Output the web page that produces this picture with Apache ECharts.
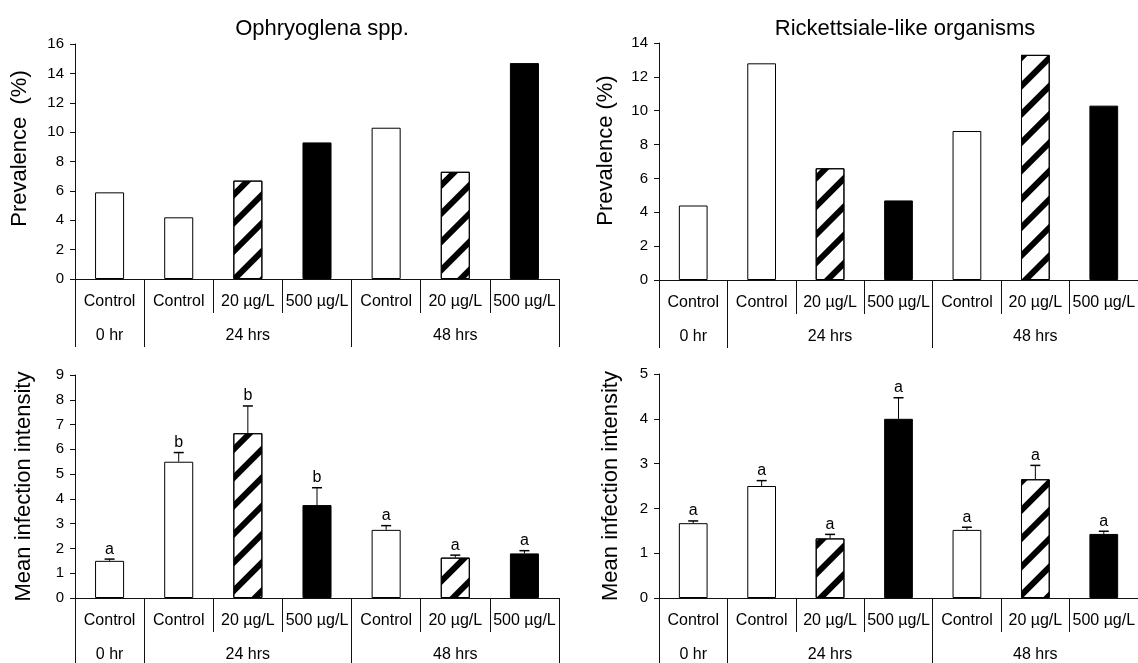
<!DOCTYPE html>
<html>
<head>
<meta charset="utf-8">
<script src="https://cdn.jsdelivr.net/npm/echarts@6/dist/echarts.min.js"></script>
<style>
  html, body { margin: 0; padding: 0; background: #fff; }
  #chart { width: 1138px; height: 663px; }
</style>
</head>
<body>
<div id="chart"></div>
<script>
// categories (bottom row of the label table) and time groups
const treatments = ['Control', 'Control', '20 µg/L', '500 µg/L', 'Control', '20 µg/L', '500 µg/L'];
const timeGroups = ['0 hr', '', '24 hrs', '', '', '48 hrs', ''];
const groupStarts = [0, 1, 4];
const barKinds = ['control', 'control', 'low', 'high', 'control', 'low', 'high'];

// prevalence (%)
const ophPrevalence = [5.9, 4.2, 6.7, 9.3, 10.3, 7.3, 14.7];
const rloPrevalence = [4.4, 12.8, 6.6, 4.7, 8.8, 13.3, 10.3];

// mean infection intensity + SE + letters
const ophIntensity = [1.5, 5.5, 6.65, 3.75, 2.75, 1.63, 1.8];
const ophIntensityErr = [0.07, 0.37, 1.1, 0.7, 0.17, 0.1, 0.11];
const ophLetters = ['a', 'b', 'b', 'b', 'a', 'a', 'a'];
const rloIntensity = [1.67, 2.5, 1.33, 4.0, 1.52, 2.65, 1.43];
const rloIntensityErr = [0.05, 0.12, 0.09, 0.47, 0.06, 0.31, 0.06];
const rloLetters = ['a', 'a', 'a', 'a', 'a', 'a', 'a'];

const FONT = '"Liberation Sans", Arial, sans-serif';
const INK = '#111';

const chart = echarts.init(document.getElementById('chart'));

// hatch for the 20 µg/L bars
const hatch = {
  symbol: 'rect',
  symbolSize: 1,
  color: '#000',
  dashArrayX: [1, 0],
  dashArrayY: [5.5, 13.5],
  rotation: -Math.PI / 4
};

function barItems(values) {
  return values.map((v, i) => {
    const kind = barKinds[i];
    const style = { color: kind === 'high' ? '#000' : '#fff', borderColor: '#000', borderWidth: 1 };
    if (kind === 'low') style.decal = hatch;
    return { value: v, itemStyle: style };
  });
}

// panel layouts
const panels = [
  { left: 75, top: 44, width: 484, height: 235, max: 16, interval: 2, name: 'Prevalence  (%)', gap: 44, namePad: [0, 0, 0, 26] },
  { left: 659, top: 43, width: 486, height: 237, max: 14, interval: 2, name: 'Prevalence (%)', gap: 42, namePad: [0, 0, 0, 22] },
  { left: 75, top: 375, width: 484, height: 224, max: 9, interval: 1, name: 'Mean infection intensity', gap: 40, namePad: [0, 0, 0, 0] },
  { left: 659, top: 374, width: 486, height: 225, max: 5, interval: 1, name: 'Mean infection intensity', gap: 37, namePad: [0, 0, 0, 0] }
];

const grid = [];
const xAxis = [];
const yAxis = [];
panels.forEach((p, k) => {
  grid.push({ left: p.left, top: p.top, width: p.width, height: p.height });
  // treatment row
  xAxis.push({
    type: 'category', gridIndex: k, data: treatments, position: 'bottom',
    axisLine: { lineStyle: { color: INK, width: 1 } },
    axisTick: { show: true, length: 34, interval: 0, lineStyle: { color: INK } },
    axisLabel: { interval: 0, margin: 15, color: '#000', fontSize: 16, fontFamily: FONT, hideOverlap: false }
  });
  // time group row
  xAxis.push({
    type: 'category', gridIndex: k, data: timeGroups, position: 'bottom', offset: 34,
    axisLine: { show: false },
    axisTick: { show: true, length: 34, interval: (i) => groupStarts.includes(i), lineStyle: { color: INK } },
    axisLabel: { interval: 0, margin: 15, color: '#000', fontSize: 16, fontFamily: FONT, hideOverlap: false }
  });
  yAxis.push({
    type: 'value', gridIndex: k, min: 0, max: p.max, interval: p.interval,
    name: p.name, nameLocation: 'middle', nameGap: p.gap,
    nameTextStyle: { fontSize: 22, fontFamily: FONT, color: '#000', padding: p.namePad },
    axisLine: { show: true, lineStyle: { color: INK } },
    axisTick: { show: true, length: 5, lineStyle: { color: INK } },
    axisLabel: { margin: 11, fontSize: 15, fontFamily: FONT, color: '#000' },
    splitLine: { show: false }
  });
});

function errorSeries(k, values, errs, letters) {
  return {
    type: 'custom',
    xAxisIndex: k * 2, yAxisIndex: k,
    z: 5,
    data: values.map((v, i) => [i, v, errs[i]]),
    encode: { x: 0, y: 1 },
    renderItem: function (params, api) {
      const i = api.value(0), v = api.value(1), e = api.value(2);
      const base = api.coord([i, v]);
      const top = api.coord([i, v + e]);
      return {
        type: 'group',
        children: [
          { type: 'line', shape: { x1: base[0], y1: base[1], x2: top[0], y2: top[1] }, style: { stroke: '#000', lineWidth: 1 } },
          { type: 'line', shape: { x1: top[0] - 5, y1: top[1], x2: top[0] + 5, y2: top[1] }, style: { stroke: '#000', lineWidth: 1.5 } },
          { type: 'text', x: top[0], y: top[1] - 2, style: { text: letters[params.dataIndex], textAlign: 'center', textVerticalAlign: 'bottom', font: '16px "Liberation Sans Narrow", "Liberation Sans", sans-serif', fill: '#000' } }
        ]
      };
    }
  };
}

const barBase = { type: 'bar', barWidth: '42%', animation: false };

chart.setOption({
  animation: false,
  title: [
    { text: 'Ophryoglena spp.', left: 317, top: 13, textAlign: 'center', textStyle: { fontSize: 22, fontWeight: 'normal', fontFamily: FONT, color: '#000' } },
    { text: 'Rickettsiale-like organisms', left: 900, top: 13, textAlign: 'center', textStyle: { fontSize: 22, fontWeight: 'normal', fontFamily: FONT, color: '#000' } }
  ],
  grid: grid,
  xAxis: xAxis,
  yAxis: yAxis,
  series: [
    Object.assign({}, barBase, { xAxisIndex: 0, yAxisIndex: 0, data: barItems(ophPrevalence) }),
    Object.assign({}, barBase, { xAxisIndex: 2, yAxisIndex: 1, data: barItems(rloPrevalence) }),
    Object.assign({}, barBase, { xAxisIndex: 4, yAxisIndex: 2, data: barItems(ophIntensity) }),
    Object.assign({}, barBase, { xAxisIndex: 6, yAxisIndex: 3, data: barItems(rloIntensity) }),
    errorSeries(2, ophIntensity, ophIntensityErr, ophLetters),
    errorSeries(3, rloIntensity, rloIntensityErr, rloLetters)
  ]
});
</script>
</body>
</html>
